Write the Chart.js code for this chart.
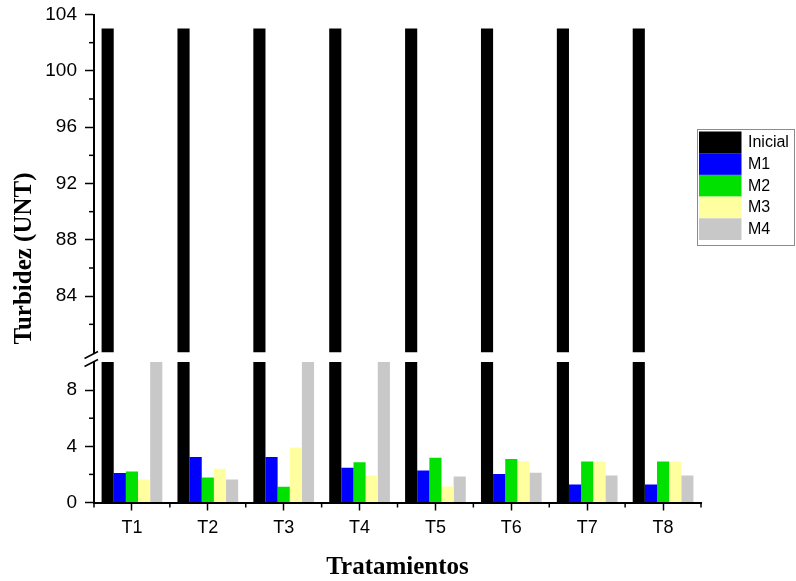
<!DOCTYPE html>
<html>
<head>
<meta charset="utf-8">
<script src="https://cdn.jsdelivr.net/npm/chart.js@4/dist/chart.umd.min.js"></script>
<style>
  html, body { margin: 0; padding: 0; background: #ffffff; }
  canvas { display: block; }
</style>
</head>
<body>
<canvas id="c" width="796" height="581"></canvas>
<script>
// Turbidity per treatment: initial value and after each stage (M1..M4)
const categories = ['T1', 'T2', 'T3', 'T4', 'T5', 'T6', 'T7', 'T8'];
const inicial = [103, 103, 103, 103, 103, 103, 103, 103];
const m1 = [2.1, 3.23, 3.23, 2.47, 2.27, 2.02, 1.28, 1.28];
const m2 = [2.2, 1.78, 1.12, 2.87, 3.18, 3.1, 2.91, 2.91];
const m3 = [1.63, 2.4, 3.91, 1.92, 1.14, 2.94, 2.91, 2.91];
// T1, T3 and T4 run past the top of the lower segment (above 10, below the break);
// 12 is an assumed value for them, and their bars are clipped at 10
const m4 = [12, 1.63, 12, 12, 1.85, 2.11, 1.92, 1.92];

const seriesNames = ['Inicial', 'M1', 'M2', 'M3', 'M4'];
const seriesData = [inicial, m1, m2, m3, m4];
const seriesColors = ['#000000', '#0000ff', '#00e100', '#ffffa0', '#c8c8c8'];

// Broken value axis: lower segment 0-10, upper segment 80-104
const lowerTicks = [0, 4, 8];
const upperTicks = [84, 88, 92, 96, 100, 104];

const FONT_SANS = '"Liberation Sans", Arial, sans-serif';
const FONT_SERIF = '"Liberation Serif", "Times New Roman", serif';

// each series is drawn once per axis segment; the stack name keeps them in one group slot
const datasets = [];
['yLow', 'yHigh'].forEach(axisId => {
  seriesNames.forEach((name, i) => {
    datasets.push({
      label: name,
      data: seriesData[i],
      yAxisID: axisId,
      stack: name,
      backgroundColor: seriesColors[i],
      borderWidth: 0,
      categoryPercentage: 0.8,
      barPercentage: 1.0
    });
  });
});

// clip each dataset to its own axis segment
const segmentClip = {
  id: 'segmentClip',
  beforeDatasetDraw(chart, args) {
    const {xScale, yScale} = args.meta;
    const ctx = chart.ctx;
    ctx.save();
    ctx.beginPath();
    ctx.rect(xScale.left, yScale.top, xScale.right - xScale.left, yScale.bottom - yScale.top);
    ctx.clip();
  },
  afterDatasetDraw(chart) {
    chart.ctx.restore();
  }
};

// minor tick marks, axis break symbol and the boxed legend
const decorations = {
  id: 'decorations',
  afterDraw(chart) {
    const ctx = chart.ctx;
    const xs = chart.scales.x;
    const lo = chart.scales.yLow;
    const hi = chart.scales.yHigh;
    ctx.save();
    ctx.strokeStyle = '#000';
    ctx.lineWidth = 1.5;

    // minor ticks on the category axis, at the group boundaries
    const w = (xs.right - xs.left) / categories.length;
    for (let i = 0; i <= categories.length; i++) {
      const x = xs.left + i * w;
      ctx.beginPath();
      ctx.moveTo(x, xs.top);
      ctx.lineTo(x, xs.top + 5);
      ctx.stroke();
    }

    // minor ticks halfway between labelled values
    [lo, hi].forEach(sc => {
      const vals = sc.ticks.map(t => t.value);
      for (let i = 0; i < vals.length - 1; i++) {
        const y = sc.getPixelForValue((vals[i] + vals[i + 1]) / 2);
        ctx.beginPath();
        ctx.moveTo(sc.right - 5, y);
        ctx.lineTo(sc.right, y);
        ctx.stroke();
      }
    });

    // break marks between the two segments
    const ax = lo.right;
    [hi.bottom + 2.5, lo.top + 1].forEach(yc => {
      ctx.beginPath();
      ctx.moveTo(ax - 9.5, yc + 3.5);
      ctx.lineTo(ax + 4, yc - 3.5);
      ctx.stroke();
    });

    // legend box
    const bx = 697.5, by = 129.5, bw = 97, bh = 116;
    const rowH = 21.7, sx = 699, sw = 42.5, top = 131.5;
    ctx.lineWidth = 1;
    ctx.strokeStyle = '#8c8c8c';
    ctx.fillStyle = '#ffffff';
    ctx.fillRect(bx, by, bw, bh);
    ctx.strokeRect(bx, by, bw, bh);
    ctx.font = '16px ' + FONT_SANS;
    ctx.textBaseline = 'middle';
    ctx.textAlign = 'left';
    for (let i = 0; i < seriesNames.length; i++) {
      const ds = chart.data.datasets[i];
      const y = top + i * rowH;
      ctx.fillStyle = ds.backgroundColor;
      ctx.fillRect(sx, y, sw, rowH);
      ctx.fillStyle = '#000';
      ctx.fillText(ds.label, 748, y + rowH / 2 + 0.5);
    }
    ctx.restore();
  }
};

// fixed width for the stacked value axes; label overhang is covered by the layout padding
const setYWidth = sc => { sc.width = 54; sc.paddingTop = 0; sc.paddingBottom = 0; };

new Chart(document.getElementById('c'), {
  type: 'bar',
  data: { labels: categories, datasets },
  plugins: [segmentClip, decorations],
  options: {
    responsive: false,
    animation: false,
    events: [],
    layout: { padding: { top: 14.5, right: 95, bottom: 0, left: 0 } },
    plugins: {
      legend: { display: false },
      tooltip: { enabled: false },
      title: {
        display: true,
        position: 'left',
        fullSize: false,
        text: 'Turbidez (UNT)',
        color: '#000',
        font: { family: FONT_SERIF, size: 25, weight: 'bold', lineHeight: 1.2 },
        padding: { top: 10, bottom: 0 }
      }
    },
    scales: {
      x: {
        type: 'category',
        offset: true,
        afterFit(sc) { sc.height = 78.5; },
        grid: { display: true, offset: false, drawOnChartArea: false, tickLength: 8, tickColor: '#000', tickWidth: 1.5 },
        border: { display: true, color: '#000', width: 2 },
        ticks: { color: '#000', font: { family: FONT_SANS, size: 18 }, padding: 7 },
        title: {
          display: true,
          text: 'Tratamientos',
          color: '#000',
          font: { family: FONT_SERIF, size: 25, weight: 'bold', lineHeight: 1.05 },
          padding: { top: 0, bottom: 0 }
        }
      },
      yLow: {
        type: 'linear',
        position: 'left',
        stack: 'turb',
        stackWeight: 140.5,
        min: 0,
        max: 10,
        afterFit: setYWidth,
        afterBuildTicks(sc) { sc.ticks = lowerTicks.map(v => ({ value: v })); },
        grid: { display: true, drawOnChartArea: false, tickLength: 9, tickColor: '#000', tickWidth: 1.5 },
        border: { display: true, color: '#000', width: 2 },
        ticks: { color: '#000', font: { family: FONT_SANS, size: 19 }, padding: 8 }
      },
      yGap: {
        type: 'linear',
        position: 'left',
        stack: 'turb',
        stackWeight: 9.5,
        min: 0,
        max: 1,
        afterFit: setYWidth,
        grid: { display: false },
        border: { display: false },
        ticks: { display: false }
      },
      yHigh: {
        type: 'linear',
        position: 'left',
        stack: 'turb',
        stackWeight: 338,
        min: 80,
        max: 104,
        afterFit: setYWidth,
        afterBuildTicks(sc) { sc.ticks = [80].concat(upperTicks).map(v => ({ value: v })); },
        grid: {
          display: true, drawOnChartArea: false, tickLength: 9, tickWidth: 1.5,
          tickColor: c => (c.tick && c.tick.value === 80 ? 'rgba(0,0,0,0)' : '#000')
        },
        border: { display: true, color: '#000', width: 2 },
        ticks: {
          color: '#000', font: { family: FONT_SANS, size: 19 }, padding: 8,
          callback: v => (upperTicks.includes(v) ? String(v) : '')
        }
      }
    }
  }
});
</script>
</body>
</html>
